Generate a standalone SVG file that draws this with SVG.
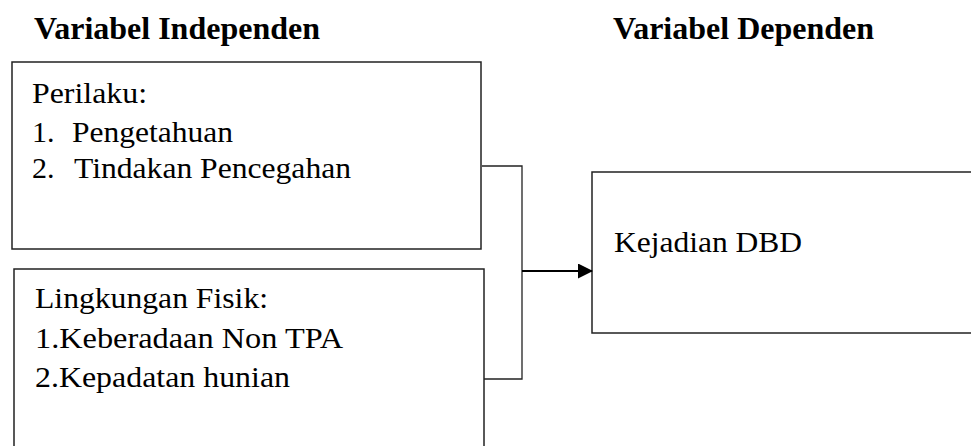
<svg xmlns="http://www.w3.org/2000/svg" width="971" height="446" viewBox="0 0 971 446">
<defs>
<marker id="arr" markerWidth="15" markerHeight="15" refX="14" refY="7.5" orient="auto" markerUnits="userSpaceOnUse">
<path d="M0,0 L15,7.5 L0,15 Z" fill="#000"/>
</marker>
</defs>
<g font-family="Liberation Serif, DejaVu Serif, serif" fill="#000">
<text font-size="31" font-weight="bold" x="34" y="39" textLength="286" lengthAdjust="spacingAndGlyphs">Variabel Independen</text>
<text font-size="31" font-weight="bold" x="613" y="39" textLength="261" lengthAdjust="spacingAndGlyphs">Variabel Dependen</text>
<g id="perilaku" font-size="30">
<rect fill="#fff" stroke="#222" stroke-width="1.5" x="12" y="62" width="469" height="187"/>
<text x="32" y="103" textLength="115" lengthAdjust="spacingAndGlyphs">Perilaku:</text>
<text x="32" y="142">1.</text>
<text x="72" y="142" textLength="161" lengthAdjust="spacingAndGlyphs">Pengetahuan</text>
<text x="32" y="178">2.</text>
<text x="74" y="178" textLength="277" lengthAdjust="spacingAndGlyphs">Tindakan Pencegahan</text>
</g>
<g id="lingkungan" font-size="30">
<rect fill="#fff" stroke="#222" stroke-width="1.5" x="14" y="269" width="470" height="190"/>
<text x="35" y="308" textLength="233" lengthAdjust="spacingAndGlyphs">Lingkungan Fisik:</text>
<text x="35" y="348" textLength="308" lengthAdjust="spacingAndGlyphs">1.Keberadaan Non TPA</text>
<text x="35" y="387" textLength="255" lengthAdjust="spacingAndGlyphs">2.Kepadatan hunian</text>
</g>
<g id="kejadian" font-size="30">
<rect fill="#fff" stroke="#222" stroke-width="1.5" x="592" y="172" width="390" height="161"/>
<text x="614" y="252" textLength="188" lengthAdjust="spacingAndGlyphs">Kejadian DBD</text>
</g>
</g>
<g id="connectors">
<path fill="none" stroke="#222" stroke-width="1.3" d="M482,166 H522 V379 H484"/>
<line x1="522" y1="271" x2="592" y2="271" stroke="#000" stroke-width="2" marker-end="url(#arr)"/>
</g>
</svg>
